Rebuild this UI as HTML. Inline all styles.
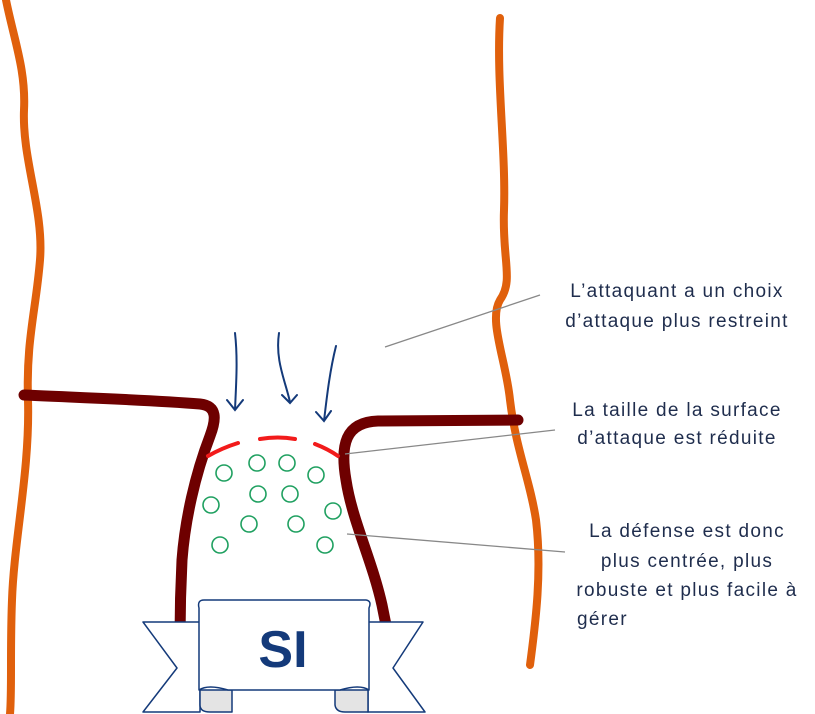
<!DOCTYPE html>
<html><head><meta charset="utf-8"><style>
html,body{margin:0;padding:0;background:#fff;width:815px;height:714px;overflow:hidden}
svg{display:block}
text{font-family:"Liberation Sans",sans-serif;font-size:19px;letter-spacing:1.3px;fill:#1f2d4d}
</style></head><body>
<svg width="815" height="714" viewBox="0 0 815 714">
<g fill="none" stroke="#e0600c" stroke-width="8" stroke-linecap="round">
<path d="M6,0 C14,40 26,70 24,110 C22,160 44,210 40,260 C36,310 26,340 28,400 C30,470 14,540 12,600 C10,650 12,690 10,714"/>
<path d="M500,18 C496,80 506,150 504,210 C502,260 514,280 500,300 C488,320 506,360 510,400 C516,450 530,480 536,520 C542,570 536,620 530,665"/>
</g>
<g fill="none" stroke="#6e0000" stroke-width="11" stroke-linecap="round">
<path d="M24,395 C90,398 150,400 200,404 C218,406 216,420 210,436 C195,475 185,520 182,560 C180,600 180,620 180,640"/>
<path d="M518,420 L378,421 C345,422 340,445 346,480 C352,520 372,560 382,605 L386,625"/>
</g>
<g fill="none" stroke="#143a7a" stroke-width="2" stroke-linecap="round">
<path d="M235,333 C238,360 236,385 235,410 M227,400 L235,410 L243,400"/>
<path d="M279,333 C275,360 285,380 290,402 M282,395 L290,403 L297,395"/>
<path d="M336,346 C330,370 327,395 324,421 M316,412 L324,421 L331,411"/>
</g>
<g fill="none" stroke="#f21b1b" stroke-width="4" stroke-linecap="round">
<path d="M208,456 Q222,448 238,443"/>
<path d="M260,439 Q278,436 295,439"/>
<path d="M315,444 Q328,449 338,456"/>
</g>
<g fill="none" stroke="#1fa060" stroke-width="1.6">
<circle cx="224" cy="473" r="8"/><circle cx="257" cy="463" r="8"/><circle cx="287" cy="463" r="8"/><circle cx="316" cy="475" r="8"/>
<circle cx="258" cy="494" r="8"/><circle cx="290" cy="494" r="8"/><circle cx="211" cy="505" r="8"/><circle cx="333" cy="511" r="8"/>
<circle cx="249" cy="524" r="8"/><circle cx="296" cy="524" r="8"/><circle cx="220" cy="545" r="8"/><circle cx="325" cy="545" r="8"/>
</g>
<g stroke="#888" stroke-width="1.3">
<line x1="385" y1="347" x2="540" y2="295"/>
<line x1="345" y1="454" x2="555" y2="430"/>
<line x1="347" y1="534" x2="565" y2="552"/>
</g>
<g stroke="#143a7a" stroke-width="1.5" fill="#fff" stroke-linejoin="round">
<polygon points="143,622 200,622 200,712 143,712 177,668"/>
<polygon points="423,622 368,622 368,712 425,712 393,668"/>
<path d="M200,690 L200,705 Q200,712 210,712 L232,712 L232,690 Z" fill="#e4e4e4"/>
<path d="M335,690 L335,705 Q336,712 345,712 L368,712 L368,690 Z" fill="#e4e4e4"/>
<path d="M204,600 L366,600 Q372,601 369,608 L369,690 Q360,684 340,690 L228,690 Q208,684 199,690 L199,608 Q197,600 204,600 Z"/>
</g>
<text x="283" y="667" text-anchor="middle" style="font-size:52px;font-weight:bold;fill:#143a7a;letter-spacing:0">SI</text>
<g text-anchor="middle">
<text x="677" y="297">L’attaquant a un choix</text>
<text x="677" y="327">d’attaque plus restreint</text>
<text x="677" y="416">La taille de la surface</text>
<text x="677" y="444">d’attaque est réduite</text>
<text x="687" y="537">La défense est donc</text>
<text x="687" y="567">plus centrée, plus</text>
<text x="687" y="596">robuste et plus facile à</text>
</g>
<text x="577" y="625">gérer</text>
</svg>
</body></html>
